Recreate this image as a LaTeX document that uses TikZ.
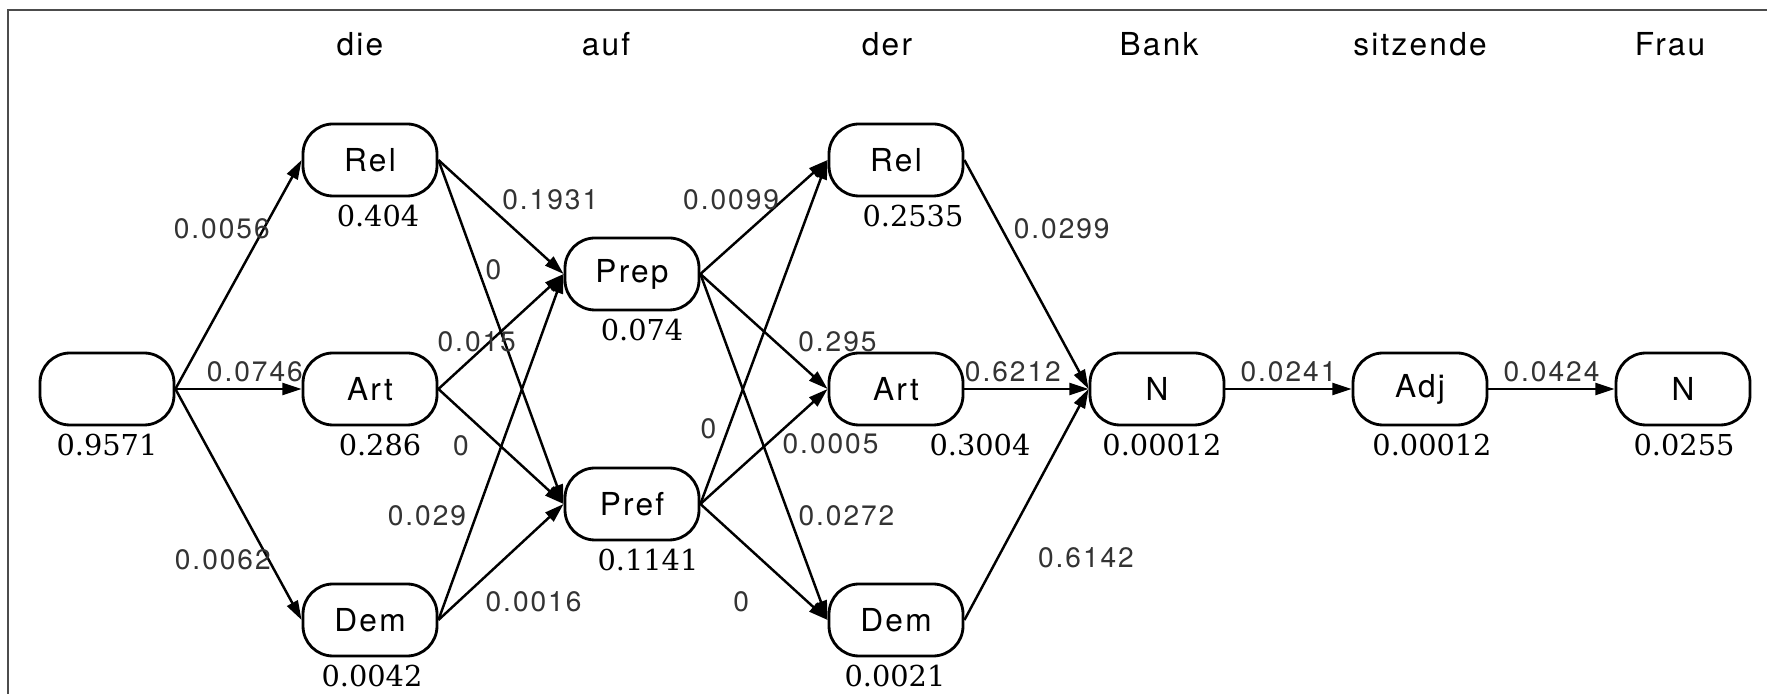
\documentclass[tikz,border=0pt]{standalone}
\usepackage{fontspec}
\newfontfamily\herosfont{TeX Gyre Heros}[LetterSpace=7]
\newfontfamily\probfont{DejaVu Serif}
\usetikzlibrary{calc}
\usetikzlibrary{arrows.meta}

\begin{document}
\begin{tikzpicture}[
    tag/.style={draw, line width=0.8pt, rounded corners=0.3cm,
        minimum width=1.34cm, minimum height=0.72cm, inner sep=0pt,
        font=\herosfont\fontsize{9}{10}\selectfont},
    word/.style={font=\herosfont\fontsize{9}{10}\selectfont},
    edge/.style={line width=0.7pt, -{Triangle[length=5.5pt, width=3.4pt]}},
    weight/.style={font=\herosfont\fontsize{8}{9}\selectfont, text=black!80, inner sep=0pt},
    prob/.style={font=\probfont\fontsize{8.2}{9}\selectfont, inner sep=0pt}
]

    % 画布与边框
    \useasboundingbox (0, 0) rectangle (17.67, -6.94);
    \draw[line width=0.8pt, black!70] (0.08, -6.94) |- (17.67, -0.10);

    % 句子中的词
    \node[word] (w_die)  at (3.60, -0.44)  {die};
    \node[word] (w_auf)  at (6.06, -0.44)  {auf};
    \node[word] (w_der)  at (8.87, -0.44)  {der};
    \node[word] (w_bank) at (11.59, -0.44) {Bank};
    \node[word] (w_sitz) at (14.20, -0.44) {sitzende};
    \node[word] (w_frau) at (16.70, -0.44) {Frau};

    % 词性节点
    \node[tag] (s0)   at (1.07, -3.89)  {};
    \node[tag] (rel1) at (3.70, -1.60)  {Rel};
    \node[tag] (art1) at (3.70, -3.89)  {Art};
    \node[tag] (dem1) at (3.70, -6.20)  {Dem};
    \node[tag] (prep) at (6.32, -2.74)  {Prep};
    \node[tag] (pref) at (6.32, -5.04)  {Pref};
    \node[tag] (rel2) at (8.96, -1.60)  {Rel};
    \node[tag] (art2) at (8.96, -3.89)  {Art};
    \node[tag] (dem2) at (8.96, -6.20)  {Dem};
    \node[tag] (n1)   at (11.57, -3.89) {N};
    \node[tag] (adj)  at (14.20, -3.89) {Adj};
    \node[tag] (n2)   at (16.83, -3.89) {N};

    % 节点下方的概率
    \node[prob] (p_s0)   at ($(s0) + (0, -0.56)$)      {0.9571};
    \node[prob] (p_rel1) at ($(rel1) + (0.08, -0.56)$) {0.404};
    \node[prob] (p_art1) at ($(art1) + (0.10, -0.56)$) {0.286};
    \node[prob] (p_dem1) at ($(dem1) + (0.02, -0.56)$) {0.0042};
    \node[prob] (p_prep) at ($(prep) + (0.10, -0.56)$) {0.074};
    \node[prob] (p_pref) at ($(pref) + (0.16, -0.56)$) {0.1141};
    \node[prob] (p_rel2) at ($(rel2) + (0.17, -0.56)$) {0.2535};
    \node[prob] (p_art2) at ($(art2) + (0.84, -0.56)$) {0.3004};
    \node[prob] (p_dem2) at ($(dem2) + (-0.01, -0.56)$) {0.0021};
    \node[prob] (p_n1)   at ($(n1) + (0.05, -0.56)$)   {0.00012};
    \node[prob] (p_adj)  at ($(adj) + (0.12, -0.56)$)  {0.00012};
    \node[prob] (p_n2)   at ($(n2) + (0.01, -0.56)$)   {0.0255};

    % 第一列
    \draw[edge] (s0.east) -- (rel1.west) node[weight, pos=0.70, xshift=-0.42cm] {0.0056};
    \draw[edge] (s0.east) -- (art1.west) node[weight, pos=0.63, yshift=0.17cm]  {0.0746};
    \draw[edge] (s0.east) -- (dem1.west) node[weight, pos=0.74, xshift=-0.46cm] {0.0062};
    % 第二列
    \draw[edge] (rel1.east) -- (prep.west) node[weight, pos=0.35, xshift=0.68cm]  {0.1931};
    \draw[edge] (rel1.east) -- (pref.west) node[weight, pos=0.32, xshift=0.15cm]  {0};
    \draw[edge] (art1.east) -- (prep.west) node[weight, pos=0.41, xshift=-0.13cm] {0.015};
    \draw[edge] (art1.east) -- (pref.west) node[weight, pos=0.18, yshift=-0.36cm] {0};
    \draw[edge] (dem1.east) -- (prep.west) node[weight, pos=0.30, xshift=-0.49cm] {0.029};
    \draw[edge] (dem1.east) -- (pref.west) node[weight, pos=0.76, yshift=-0.70cm] {0.0016};
    % 第三列
    \draw[edge] (prep.east) -- (rel2.west) node[weight, pos=0.65, xshift=-0.52cm] {0.0099};
    \draw[edge] (prep.east) -- (art2.west) node[weight, pos=0.59, xshift=0.62cm]  {0.295};
    \draw[edge] (prep.east) -- (dem2.west) node[weight, pos=0.70, xshift=0.57cm]  {0.0272};
    \draw[edge] (pref.east) -- (rel2.west) node[weight, pos=0.22, xshift=-0.20cm] {0};
    \draw[edge] (pref.east) -- (art2.west) node[weight, pos=0.52, xshift=0.64cm]  {0.0005};
    \draw[edge] (pref.east) -- (dem2.west) node[weight, pos=0.32, yshift=-0.61cm] {0};
    % 汇到 N
    \draw[edge] (rel2.east) -- (n1.west) node[weight, pos=0.30, xshift=0.60cm] {0.0299};
    \draw[edge] (art2.east) -- (n1.west) node[weight, pos=0.39, yshift=0.17cm] {0.6212};
    \draw[edge] (dem2.east) -- (n1.west) node[weight, pos=0.27, xshift=0.88cm] {0.6142};
    % 最后两步
    \draw[edge] (n1.east) -- (adj.west) node[weight, pos=0.5, yshift=0.17cm] {0.0241};
    \draw[edge] (adj.east) -- (n2.west) node[weight, pos=0.5, yshift=0.17cm] {0.0424};

\end{tikzpicture}
\end{document}
